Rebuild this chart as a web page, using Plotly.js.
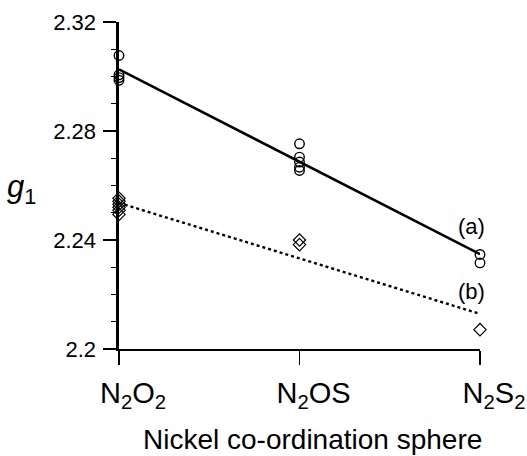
<!DOCTYPE html>
<html>
<head>
<meta charset="utf-8">
<script src="https://cdn.plot.ly/plotly-3.0.1.min.js"></script>
<style>html,body{margin:0;padding:0;background:#fff;}#chart{width:527px;height:456px;}</style>
</head>
<body>
<div id="chart"></div>
<script>
// Categories (x positions 0,1,2)
var categories = ["N<sub>2</sub>O<sub>2</sub>", "N<sub>2</sub>OS", "N<sub>2</sub>S<sub>2</sub>"];
var catIndex = [0, 1, 2];

// Series (a): circles
var aX = [0, 0, 0, 0, 1, 1, 1, 1, 1, 2, 2];
var aY = [2.3077, 2.3006, 2.2996, 2.2986, 2.2753, 2.2704, 2.2686, 2.2667, 2.2655, 2.2347, 2.2316];

// Series (b): diamonds
var bX = [0, 0, 0, 0, 0, 0, 1, 1, 2];
var bY = [2.2553, 2.2542, 2.2531, 2.2520, 2.2509, 2.2494, 2.2400, 2.2383, 2.2071];

// Fitted lines (end points)
var lineAX = [0, 2];
var lineAY = [2.3026, 2.2348];
var lineBX = [0, 2];
var lineBY = [2.2536, 2.2129];

// Y tick labels
var yTickVals = [2.2, 2.24, 2.28, 2.32];
var yTickText = ["2.2", "2.24", "2.28", "2.32"];

var font = "Liberation Sans, Arial, sans-serif";

var traces = [
  {x: lineAX, y: lineAY, mode: "lines", line: {color: "#000", width: 2.6}, hoverinfo: "skip", cliponaxis: false},
  {x: lineBX, y: lineBY, mode: "lines", line: {color: "#000", width: 2.4, dash: "dot"}, hoverinfo: "skip", cliponaxis: false},
  {x: aX, y: aY, mode: "markers", marker: {symbol: "circle-open", size: 9.5, color: "#000", line: {width: 1.4, color: "#000"}}, cliponaxis: false},
  {x: bX, y: bY, mode: "markers", marker: {symbol: "diamond-open", size: 9.5, color: "#000", line: {width: 1.2, color: "#000"}}, cliponaxis: false}
];

var layout = {
  width: 527, height: 456,
  margin: {l: 119, r: 47, t: 22, b: 107, pad: 0},
  paper_bgcolor: "#fff", plot_bgcolor: "#fff",
  showlegend: false,
  font: {family: font, color: "#000"},
  xaxis: {
    range: [0, 2], tickvals: catIndex, ticktext: categories,
    showline: true, linewidth: 2.2, linecolor: "#000", mirror: false,
    ticks: "outside", ticklen: 14, tickwidth: 1.2, tickcolor: "#000",
    showgrid: false, zeroline: false,
    tickfont: {size: 29, family: font, color: "#000"},
    ticklabelshift: 14, ticklabelstandoff: 3
  },
  yaxis: {
    range: [2.2, 2.32], tickvals: yTickVals, ticktext: yTickText,
    showline: true, linewidth: 2.6, linecolor: "#000",
    ticks: "outside", ticklen: 13, tickwidth: 1.2, tickcolor: "#000",
    minor: {dtick: 0.01, ticks: "outside", ticklen: 5, tickwidth: 1, tickcolor: "#000", showgrid: false},
    showgrid: false, zeroline: false,
    tickfont: {size: 22, family: font, color: "#000"},
    ticklabelstandoff: 3
  },
  annotations: [
    {text: "(a)", xref: "x", yref: "y", x: 1.954, y: 2.2448, xanchor: "center", yanchor: "middle", showarrow: false, font: {size: 22, family: font, color: "#000"}},
    {text: "(b)", xref: "x", yref: "y", x: 1.954, y: 2.2210, xanchor: "center", yanchor: "middle", showarrow: false, font: {size: 22, family: font, color: "#000"}},
    {text: "Nickel co-ordination sphere", xref: "paper", yref: "paper", x: 0.537, y: -0.278, xanchor: "center", yanchor: "middle", showarrow: false, font: {size: 28, family: font, color: "#000"}},
    {text: "<i>g</i><sub>1</sub>", xref: "paper", yref: "paper", x: -0.269, y: 0.49, xanchor: "center", yanchor: "middle", showarrow: false, font: {size: 31, family: font, color: "#000"}}
  ]
};

Plotly.newPlot("chart", traces, layout, {staticPlot: true, displayModeBar: false});
</script>
</body>
</html>
